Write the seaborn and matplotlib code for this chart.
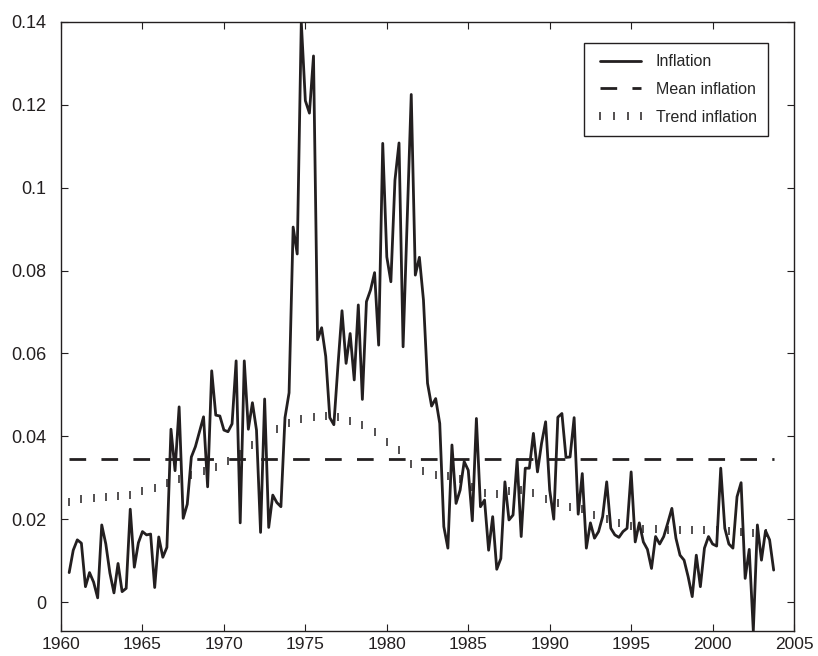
import numpy as np
import pandas as pd
import matplotlib
matplotlib.use("Agg")
import matplotlib.pyplot as plt
import seaborn as sns

# ---------------- data ----------------
quarters = np.arange(1960.5, 2003.76, 0.25)  # quarterly dates 1960Q3 .. 2003Q4

inflation = [
    0.0071, 0.0125, 0.0150, 0.0142, 0.0037, 0.0071, 0.0048, 0.0010,   # 1960.50-1962.25
    0.0186, 0.0140, 0.0070, 0.0022, 0.0093, 0.0025, 0.0033, 0.0224,   # 1962.50-1964.25
    0.0084, 0.0143, 0.0170, 0.0162, 0.0164, 0.0035, 0.0157, 0.0108,   # 1964.50-1966.25
    0.0132, 0.0417, 0.0317, 0.0471, 0.0202, 0.0236, 0.0350, 0.0375,   # 1966.50-1968.25
    0.0411, 0.0447, 0.0278, 0.0558, 0.0451, 0.0449, 0.0415, 0.0411,   # 1968.50-1970.25
    0.0430, 0.0582, 0.0191, 0.0582, 0.0417, 0.0481, 0.0415, 0.0168,   # 1970.50-1972.25
    0.0490, 0.0180, 0.0258, 0.0240, 0.0230, 0.0445, 0.0505, 0.0905,   # 1972.50-1974.25
    0.0840, 0.1400, 0.1210, 0.1180, 0.1318, 0.0633, 0.0662, 0.0593,   # 1974.50-1976.25
    0.0445, 0.0428, 0.0570, 0.0703, 0.0576, 0.0648, 0.0536, 0.0717,   # 1976.50-1978.25
    0.0489, 0.0725, 0.0753, 0.0795, 0.0620, 0.1107, 0.0833, 0.0773,   # 1978.50-1980.25
    0.1018, 0.1108, 0.0616, 0.0920, 0.1225, 0.0789, 0.0832, 0.0729,   # 1980.50-1982.25
    0.0528, 0.0473, 0.0491, 0.0431, 0.0182, 0.0130, 0.0379, 0.0238,   # 1982.50-1984.25
    0.0270, 0.0339, 0.0318, 0.0196, 0.0443, 0.0230, 0.0246, 0.0125,   # 1984.50-1986.25
    0.0206, 0.0079, 0.0105, 0.0290, 0.0198, 0.0210, 0.0344, 0.0158,   # 1986.50-1988.25
    0.0323, 0.0323, 0.0407, 0.0314, 0.0383, 0.0435, 0.0270, 0.0200,   # 1988.50-1990.25
    0.0446, 0.0455, 0.0349, 0.0350, 0.0445, 0.0212, 0.0310, 0.0130,   # 1990.50-1992.25
    0.0191, 0.0154, 0.0170, 0.0206, 0.0290, 0.0178, 0.0162, 0.0156,   # 1992.50-1994.25
    0.0170, 0.0178, 0.0314, 0.0145, 0.0191, 0.0145, 0.0127, 0.0081,   # 1994.50-1996.25
    0.0158, 0.0140, 0.0158, 0.0191, 0.0226, 0.0154, 0.0113, 0.0101,   # 1996.50-1998.25
    0.0061, 0.0013, 0.0113, 0.0037, 0.0130, 0.0158, 0.0140, 0.0135,   # 1998.50-2000.25
    0.0323, 0.0178, 0.0140, 0.0130, 0.0254, 0.0288, 0.0057, 0.0127,   # 2000.50-2002.25
    -0.0070, 0.0186, 0.0101, 0.0172, 0.0150, 0.0077,                  # 2002.50-2003.75
]

mean_inflation = 0.0344

trend_years = np.arange(1960.5, 2003.3, 0.75)
trend_inflation = [
    0.0242, 0.0249, 0.0252, 0.0254, 0.0256, 0.0259, 0.0267, 0.0276,
    0.0287, 0.0297, 0.0307, 0.0316, 0.0325, 0.0340, 0.0358, 0.0378,
    0.0400, 0.0418, 0.0432, 0.0441, 0.0446, 0.0448, 0.0446, 0.0438,
    0.0427, 0.0410, 0.0387, 0.0366, 0.0333, 0.0315, 0.0306, 0.0304,
    0.0298, 0.0278, 0.0264, 0.0261, 0.0267, 0.0270, 0.0262, 0.0248,
    0.0238, 0.0230, 0.0224, 0.0210, 0.0200, 0.0190, 0.0183, 0.0177,
    0.0177, 0.0175, 0.0173, 0.0174, 0.0174, 0.0173, 0.0172, 0.0170,
    0.0167, 0.0166,
]

x_ticks = [1960, 1965, 1970, 1975, 1980, 1985, 1990, 1995, 2000, 2005]
y_ticks = [0, 0.02, 0.04, 0.06, 0.08, 0.1, 0.12, 0.14]
y_labels = ["0", "0.02", "0.04", "0.06", "0.08", "0.1", "0.12", "0.14"]

# ---------------- plotting ----------------
sns.set_theme(style="ticks")
plt.rcParams["font.family"] = ["Liberation Sans", "DejaVu Sans"]

ink = "#231f20"
fig = plt.figure(figsize=(8.18, 6.56), dpi=100)
ax = fig.add_axes([0.0746, 0.0381, 0.8961, 0.9284])

df = pd.DataFrame({"year": quarters, "inflation": inflation})
sns.lineplot(data=df, x="year", y="inflation", ax=ax, color=ink, lw=2.0,
             label="Inflation", errorbar=None)

mean_df = pd.DataFrame({"year": [quarters[0], quarters[-1]],
                        "value": [mean_inflation, mean_inflation]})
sns.lineplot(data=mean_df, x="year", y="value", ax=ax, color=ink, lw=2.0,
             linestyle=(0, (6, 5.5)), label="Mean inflation", errorbar=None)

trend_df = pd.DataFrame({"year": trend_years, "value": trend_inflation})
sns.lineplot(data=trend_df, x="year", y="value", ax=ax, color=ink,
             linestyle="none", marker="|", markersize=5.5, markeredgewidth=1.1,
             markeredgecolor=ink, markerfacecolor=ink,
             label="Trend inflation", errorbar=None)

ax.set_xlim(1960, 2005)
ax.set_ylim(min(inflation), max(inflation))
ax.set_xticks(x_ticks)
ax.set_xticklabels([str(t) for t in x_ticks])
ax.set_yticks(y_ticks)
ax.set_yticklabels(y_labels)
ax.set_xlabel("")
ax.set_ylabel("")

for s in ax.spines.values():
    s.set_visible(True)
    s.set_color(ink)
    s.set_linewidth(1.0)
ax.tick_params(direction="in", top=True, right=True, length=5, width=0.8,
               colors=ink, labelsize=13)
ax.tick_params(axis="y", pad=10.5)
ax.tick_params(axis="x", pad=4, labelsize=12.5)

leg = ax.legend(loc="upper right", bbox_to_anchor=(0.9645, 0.9655),
                borderaxespad=0, frameon=True, fancybox=False, shadow=False,
                fontsize=11.5, numpoints=4, handlelength=3.2, handletextpad=0.6,
                labelspacing=0.8, borderpad=0.7)
leg.get_frame().set_edgecolor(ink)
leg.get_frame().set_linewidth(1.0)
leg.get_frame().set_alpha(1)

fig.savefig("out.png", dpi=100)
